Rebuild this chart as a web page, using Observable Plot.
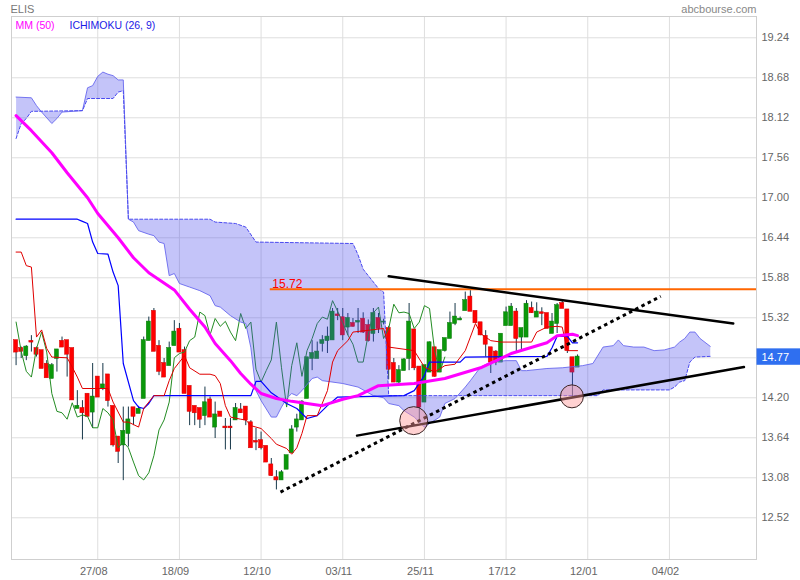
<!DOCTYPE html>
<html><head><meta charset="utf-8">
<script src="https://cdn.jsdelivr.net/npm/d3@7"></script>
<script src="https://cdn.jsdelivr.net/npm/@observablehq/plot@0.6"></script>
<style>
html,body{margin:0;padding:0;background:#fff;}
#chart{width:800px;height:580px;}
</style></head>
<body><div id="chart"></div>
<script>
// ---- Daily candles (bar index 0..110) ----
const opens  = [15.00,14.89,14.79,14.99,14.89,14.86,14.67,14.47,14.75,14.99,15.00,14.89,14.05,14.05,14.25,14.00,14.49,14.33,14.52,14.08,
13.65,13.54,13.70,14.06,13.98,14.19,15.00,15.41,14.92,14.68,14.65,14.93,15.16,14.86,14.36,14.08,14.05,13.95,14.17,13.79,
14.00,13.79,13.79,13.89,14.03,14.07,13.85,13.59,13.60,13.52,13.26,13.08,13.05,13.20,13.43,13.79,13.89,14.19,14.75,14.75,
14.96,15.00,15.01,15.36,15.32,15.19,15.24,15.26,15.30,15.21,15.10,15.31,15.26,15.17,14.68,14.42,14.58,14.75,15.15,14.63,
14.14,14.56,14.90,14.56,14.86,15.03,15.24,15.29,15.42,15.61,15.41,15.25,15.06,14.90,14.84,14.70,15.21,15.21,15.40,15.05,
15.05,15.45,15.33,15.39,15.38,15.10,15.24,15.52,15.43,14.76,14.63];
const highs  = [15.00,14.91,14.93,15.07,14.91,14.86,14.72,14.68,14.87,15.05,15.00,14.89,14.30,14.16,14.25,14.68,14.49,14.68,14.52,14.08,
13.65,14.07,14.07,14.06,14.08,15.05,15.33,15.45,15.00,14.75,14.98,15.28,15.24,14.91,14.36,14.08,14.05,14.35,14.21,14.14,
14.00,13.91,13.91,14.12,14.12,14.07,13.88,13.77,13.72,13.52,13.35,13.18,13.18,13.39,13.81,13.97,14.16,14.76,15.00,14.98,
15.07,15.19,15.45,15.45,15.45,15.38,15.31,15.45,15.39,15.29,15.45,15.38,15.30,15.20,14.75,14.65,14.75,15.52,15.15,14.63,
14.65,14.98,14.90,14.86,15.03,15.40,15.52,15.33,15.68,15.70,15.41,15.25,15.14,14.90,14.86,15.09,15.47,15.52,15.45,15.17,
15.56,15.54,15.53,15.46,15.38,15.38,15.52,15.56,15.43,14.76,14.80];
const lows   = [14.65,14.75,14.72,14.84,14.77,14.61,14.48,14.47,14.56,14.91,14.49,14.17,14.05,13.61,13.94,13.77,14.21,14.30,14.07,13.51,
13.28,13.04,13.51,13.81,13.98,14.19,15.00,14.85,14.51,14.49,14.65,14.93,14.84,14.26,13.81,13.81,13.77,13.81,13.93,13.63,
13.94,13.47,13.47,13.89,13.98,13.81,13.50,13.46,13.47,13.30,13.10,12.91,13.05,13.20,13.43,13.72,13.89,14.19,14.58,14.75,
14.84,14.82,15.01,15.28,15.00,15.07,15.19,15.10,15.10,14.98,14.98,15.10,15.22,14.45,14.42,14.40,14.58,14.58,14.58,13.88,
14.14,14.56,14.49,14.56,14.84,15.03,15.21,15.28,15.42,15.41,15.24,15.07,14.77,14.54,14.65,14.70,15.21,15.21,14.84,14.86,
15.05,15.38,15.33,15.21,15.17,15.10,15.10,15.45,14.82,14.21,14.63];
const closes = [14.84,14.85,14.91,14.98,14.81,14.61,14.48,14.65,14.87,14.91,14.81,14.17,14.08,13.99,13.94,14.21,14.21,14.38,14.16,13.54,
13.45,13.73,13.89,13.94,14.04,15.00,15.26,14.85,14.57,14.49,14.89,15.12,14.84,14.26,14.01,13.99,13.90,14.13,13.93,13.96,
13.94,13.78,13.78,14.05,13.99,13.89,13.50,13.58,13.50,13.30,13.11,13.05,13.15,13.39,13.75,13.89,14.14,14.76,14.82,14.84,
15.00,15.05,15.40,15.35,15.08,15.31,15.20,15.27,15.12,15.00,15.38,15.17,15.26,14.60,14.42,14.58,14.73,15.26,14.62,14.07,
14.65,14.97,14.50,14.86,15.03,15.24,15.33,15.30,15.56,15.41,15.25,15.08,14.95,14.70,14.70,15.09,15.39,15.47,15.03,15.17,
15.51,15.39,15.40,15.38,15.17,15.26,15.49,15.45,14.86,14.56,14.77];

// ---- Indicators: [bar index, price] ----
const mm50 = [[0,18.15],[3,17.94],[7,17.63],[10,17.35],[14,17.00],[16,16.78],[20,16.44],[23,16.16],[26,15.95],[31,15.71],
[34,15.44],[37,15.19],[39,14.96],[42,14.72],[44,14.54],[46,14.39],[48,14.26],[51,14.19],[54,14.15],[57,14.12],[60,14.09],
[64,14.18],[67,14.23],[71,14.37],[78,14.40],[84,14.47],[91,14.62],[97,14.82],[104,14.97],[106,15.07],[109,15.09],[110,15.07]];
const kijun = [[0,16.70],[12,16.70],[13,16.67],[14,16.64],[15,16.38],[16,16.22],[18,16.21],[19,15.96],[20,15.77],[21,14.68],
[23,14.16],[24,14.07],[25,14.05],[26,14.12],[27,14.23],[46,14.23],[47,14.43],[48,14.43],[50,14.27],[51,14.22],[53,14.12],
[55,14.05],[57,13.91],[59,13.95],[61,14.09],[63,14.21],[76,14.23],[78,14.30],[80,14.51],[81,14.70],[87,14.70],[88,14.77],
[104,14.78],[105,14.90],[106,15.06],[108,15.06],[109,14.97],[110,14.97]];
const tenkan = [[0,16.24],[1,16.24],[2,16.05],[3,16.03],[4,15.05],[5,15.15],[6,14.89],[7,14.77],[10,14.76],[11,14.63],
[12,14.49],[13,14.33],[18,14.33],[19,14.14],[21,13.86],[22,13.86],[24,13.79],[25,14.05],[27,14.23],[29,14.23],[30,14.44],
[31,14.61],[33,14.79],[34,14.62],[36,14.53],[38,14.53],[39,14.51],[40,14.40],[41,14.09],[42,13.93],[44,13.90],[45,13.89],
[46,13.81],[48,13.77],[50,13.63],[51,13.55],[53,13.49],[54,13.41],[55,13.50],[56,13.70],[57,13.95],[59,13.95],[61,14.30],
[62,14.70],[63,14.86],[65,15.00],[66,15.12],[72,15.17],[73,14.91],[78,14.86],[80,14.63],[82,14.56],[84,14.65],[86,14.67],
[88,14.86],[89,15.05],[90,15.24],[91,15.10],[93,15.00],[95,14.98],[101,14.98],[102,15.12],[104,15.19],[106,15.20],[107,15.19],
[108,14.86],[110,14.86]];
const senkouA = [[0,18.41],[3,18.40],[4,18.29],[5,18.20],[7,18.04],[8,18.11],[9,18.20],[13,18.22],[14,18.54],[15,18.57],
[16,18.70],[17,18.76],[18,18.73],[19,18.71],[20,18.65],[21,18.65],[22,16.70],[23,16.66],[24,16.54],[26,16.49],[27,16.47],
[28,16.38],[29,16.36],[30,15.91],[31,15.94],[32,15.80],[34,15.75],[36,15.70],[38,15.63],[39,15.49],[40,15.47],[42,15.35],
[44,15.26],[45,15.24],[46,14.90],[47,14.30],[48,14.16],[50,13.93],[51,13.93],[52,14.07],[53,14.19],[54,14.26],[55,14.23],
[56,14.30],[58,14.47],[59,14.49],[60,14.44],[64,14.40],[67,14.35],[70,14.23],[72,14.20],[73,14.12],[75,14.09],[76,14.02],
[78,13.93],[80,13.79],[81,13.84],[83,13.93],[84,14.12],[86,14.19],[88,14.35],[89,14.44],[91,14.63],[93,14.70],[96,14.72],
[98,14.72],[99,14.58],[100,14.58],[104,14.61],[107,14.62],[111,14.65],[113,14.68],[115,14.91],[117,14.93],[118,15.01],
[119,14.93],[121,14.91],[123,14.91],[125,14.86],[127,14.87],[129,14.91],[130,14.98],[131,15.03],[132,15.12],[133,15.12],
[134,15.03],[136,14.92]];
const senkouB = [[0,17.83],[1,18.04],[2,18.11],[3,18.21],[13,18.22],[14,18.39],[19,18.39],[20,18.48],[21,18.50],[22,16.70],
[38,16.70],[39,16.66],[43,16.64],[45,16.59],[47,16.38],[66,16.36],[67,16.20],[68,16.00],[69,15.91],[70,15.82],[71,15.73],
[72,15.68],[73,14.23],[114,14.23],[115,14.31],[128,14.31],[129,14.35],[130,14.42],[131,14.44],[132,14.70],[133,14.77],[136,14.78]];

// ---- Drawn annotations: [bar index, price] ----
const trendTop    = [[73.0,15.90],[140.5,15.24]];
const trendBottom = [[66.8,13.67],[142.6,14.63]];
const trendDotted = [[51.8,12.88],[126.3,15.62]];
const resistance = 15.72, resistanceStart = 49.8;
const circleBig = [[77.9,13.88]], circleSmall = [[108.9,14.22]];

// ---- Axes ----
const yTicks = [19.24,18.68,18.12,17.56,17.00,16.44,15.88,15.32,14.76,14.20,13.64,13.08,12.52];
const xTickIdx = [16,32,48,64,80,96,112,128];
const xTickLabels = ["27/08","18/09","12/10","03/11","25/11","17/12","12/01","04/02"];
const lastPrice = 14.77;

const xDomain = [-0.9, 145.06], yDomain = [11.936, 19.538];
const candles = closes.map((c,i)=>({i, o:opens[i], h:highs[i], l:lows[i], c}));
const up = candles.filter(d=>d.c>=d.o), down = candles.filter(d=>d.c<d.o);
const chikou = closes.slice(26).map((c,k)=>[k,c]);
const cloudPoly = [...senkouA, ...senkouB.slice().reverse()];
const X = d=>d[0], Y = d=>d[1];
const font = "'Liberation Sans', Arial, sans-serif";
const pxPerIdx = 745/(xDomain[1]-xDomain[0]);

const chart = Plot.plot({
  width: 800, height: 580,
  marginTop: 16, marginBottom: 21, marginLeft: 11, marginRight: 44,
  x: {type:"linear", domain: xDomain, label: null},
  y: {type:"linear", domain: yDomain, label: null},
  style: {fontFamily: font, fontSize: "11px", background: "#fff", color: "#666"},
  marks: [
    Plot.gridY(yTicks, {stroke:"#dedede", strokeOpacity:1}),
    Plot.gridX(xTickIdx, {stroke:"#dedede", strokeOpacity:1}),
    Plot.frame({stroke:"#cfcfcf"}),
    // candles
    Plot.ruleX(candles, {x:"i", y1:"l", y2:"h", stroke:"#17384a", strokeWidth:1}),
    Plot.rect(up, {x1:d=>d.i-0.4, x2:d=>d.i+0.4, y1:"o", y2:"c", fill:"#0a980a", stroke:"#0a7a0a", strokeWidth:0.5, insetTop:-0.5, insetBottom:-0.5}),
    Plot.rect(down, {x1:d=>d.i-0.4, x2:d=>d.i+0.4, y1:"c", y2:"o", fill:"#ff0000", stroke:"#d00000", strokeWidth:0.5, insetTop:-0.5, insetBottom:-0.5}),
    // chikou
    Plot.line(chikou, {x:X, y:Y, stroke:"#238c23", strokeWidth:1}),
    // cloud
    Plot.line(cloudPoly, {x:X, y:Y, fill:"rgb(70,70,235)", fillOpacity:0.32, stroke:"none", curve:"linear"}),
    Plot.line(senkouA, {x:X, y:Y, stroke:"#6868ee", strokeWidth:1, strokeOpacity:0.9}),
    Plot.line(senkouB, {x:X, y:Y, stroke:"#4a4af0", strokeWidth:1, strokeDasharray:"3,2"}),
    // indicator lines
    Plot.line(kijun, {x:X, y:Y, stroke:"#0000ff", strokeWidth:1.2}),
    Plot.line(tenkan, {x:X, y:Y, stroke:"#e00000", strokeWidth:1}),
    Plot.line(mm50, {x:X, y:Y, stroke:"#ff00ff", strokeWidth:3}),
    // annotations
    Plot.ruleY([resistance], {x1:resistanceStart, x2:xDomain[1], stroke:"#ff6600", strokeWidth:2}),
    Plot.text([resistance], {x:resistanceStart, y:d=>d, text:d=>d.toFixed(2), textAnchor:"start", lineAnchor:"bottom", dx:2, dy:-1, fill:"#ff0000", fontSize:12}),
    Plot.line(trendTop, {x:X, y:Y, stroke:"#000", strokeWidth:2.5}),
    Plot.line(trendBottom, {x:X, y:Y, stroke:"#000", strokeWidth:2.5}),
    Plot.line(trendDotted, {x:X, y:Y, stroke:"#000", strokeWidth:3, strokeDasharray:"3.5,3.5", strokeLinecap:"butt"}),
    Plot.dot(circleBig, {x:X, y:Y, r:14, fill:"#ff9a9a", fillOpacity:0.45, stroke:"#3a2424", strokeWidth:1}),
    Plot.dot(circleSmall, {x:X, y:Y, r:11.5, fill:"#ff9a9a", fillOpacity:0.45, stroke:"#3a2424", strokeWidth:1}),
    // axes
    Plot.axisY(yTicks.filter(t=>Math.abs(t-lastPrice)>0.05), {anchor:"right", label:null, tickSize:0, tickPadding:5, tickFormat:d=>d.toFixed(2), fill:"#666", fontSize:11}),
    Plot.axisX(xTickIdx, {anchor:"bottom", label:null, tickSize:0, tickPadding:8, tickFormat:(d)=>xTickLabels[xTickIdx.indexOf(d)], fill:"#666", fontSize:11, dx:-4}),
    // last price box
    Plot.rect([lastPrice], {x1:xDomain[1]+0.1, x2:xDomain[1]+44/pxPerIdx, y1:d=>d-0.115, y2:d=>d+0.115, fill:"#2f6ff0"}),
    Plot.text([lastPrice], {x:xDomain[1], y:d=>d, text:d=>d.toFixed(2), textAnchor:"start", dx:5, fill:"#fff", fontSize:11}),
    // legend and titles
    Plot.text(["MM (50)"], {frameAnchor:"top-left", text:d=>d, dx:4, dy:9.5, lineAnchor:"middle", textAnchor:"start", fill:"#ff00ff", fontSize:10.5}),
    Plot.text(["ICHIMOKU (26, 9)"], {frameAnchor:"top-left", text:d=>d, dx:58, dy:9.5, lineAnchor:"middle", textAnchor:"start", fill:"#1a1ae6", fontSize:10.5}),
    Plot.text(["ELIS"], {frameAnchor:"top-left", text:d=>d, dx:-1, dy:-7, lineAnchor:"middle", textAnchor:"start", fill:"#777", fontSize:11}),
    Plot.text(["abcbourse.com"], {frameAnchor:"top-right", text:d=>d, dx:0, dy:-7, lineAnchor:"middle", textAnchor:"end", fill:"#888", fontSize:11})
  ]
});
document.getElementById("chart").appendChild(chart);
</script>
</body></html>
